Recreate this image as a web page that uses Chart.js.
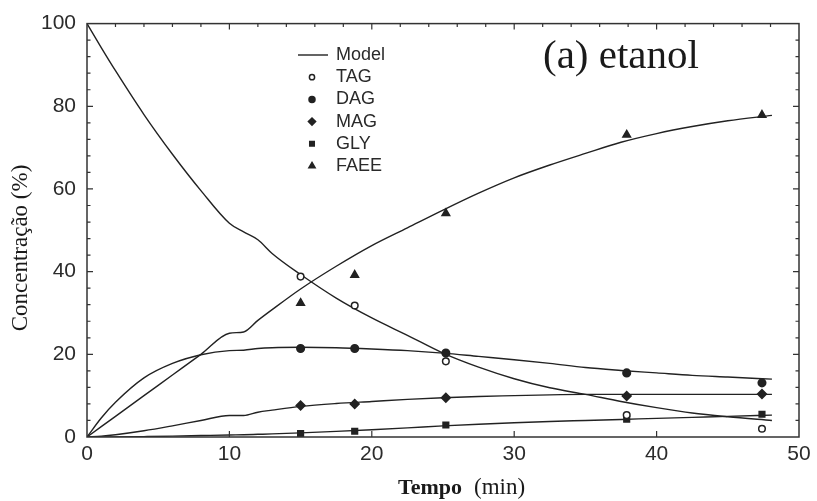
<!DOCTYPE html>
<html>
<head>
<meta charset="utf-8">
<script src="https://cdn.jsdelivr.net/npm/chart.js@4.4.1/dist/chart.umd.min.js"></script>
<style>
  html, body { margin: 0; padding: 0; background: #fff; }
  #wrap { width: 817px; height: 501px; }
</style>
</head>
<body>
<div id="wrap"><canvas id="myChart" width="817" height="501"></canvas></div>
<script>
// measured concentrations (%)
const tempo = [15, 18.8, 25.2, 37.9, 47.4];
const tag = [38.8, 31.8, 18.3, 5.3, 2.0];
const dag = [21.4, 21.4, 20.3, 15.5, 13.1];
const mag = [7.6, 8.0, 9.5, 9.9, 10.4];
const gly = [0.8, 1.4, 2.9, 4.3, 5.5];
const faee = [32.4, 39.2, 54.1, 73.1, 77.9];

// model curves
const tModel = [0, 1, 2, 4, 6, 8, 10, 11, 12, 13, 15, 17.5, 20, 22.5, 25, 27.5, 30, 32.5, 35, 37.5, 40, 42.5, 45, 48.1];
const tagModel = [100, 94.2, 88.6, 78.0, 68.4, 59.6, 51.7, 49.6, 47.7, 44.4, 39.3, 33.6, 28.8, 24.6, 20.3, 16.9, 14.1, 11.9, 10.3, 8.6, 7.1, 5.8, 4.9, 4.0];
const dagModel = [0, 4.6, 8.4, 14.3, 17.8, 19.9, 20.9, 21.0, 21.4, 21.6, 21.7, 21.6, 21.3, 20.9, 20.3, 19.5, 18.7, 17.8, 16.8, 16.1, 15.5, 14.9, 14.5, 14.0];
const magModel = [0, 0.2, 0.55, 1.5, 2.7, 4.0, 5.2, 5.2, 6.0, 6.5, 7.4, 8.1, 8.6, 9.1, 9.5, 9.8, 10.0, 10.2, 10.3, 10.3, 10.3, 10.3, 10.3, 10.3];
const glyModel = [0, 0.01, 0.02, 0.1, 0.2, 0.35, 0.5, 0.55, 0.65, 0.75, 1.0, 1.35, 1.75, 2.2, 2.7, 3.1, 3.45, 3.75, 4.0, 4.25, 4.5, 4.75, 5.0, 5.3];
const faeeModel = [0, 2.5, 5, 10, 15, 20, 25.1, 25.4, 28.2, 30.8, 35.8, 41.3, 46.3, 50.6, 54.9, 59.0, 62.7, 65.8, 68.6, 71.3, 73.4, 75.1, 76.5, 77.8];

const xTicks = [0, 10, 20, 30, 40, 50];
const yTicks = [0, 20, 40, 60, 80, 100];

const ink = '#222';
const sans = '"Liberation Sans", Arial, sans-serif';
const serif = '"Liberation Serif", "Times New Roman", serif';

function pts(xs, ys) {
  return xs.map((x, i) => ({ x: x, y: ys[i] }));
}

function modelSet(ys) {
  return {
    label: 'Model',
    data: pts(tModel, ys),
    showLine: true,
    borderColor: ink,
    borderWidth: 1.4,
    pointRadius: 0,
    cubicInterpolationMode: 'monotone',
    order: 2
  };
}

function obsSet(label, ys, style, fill, r) {
  return {
    label: label,
    data: pts(tempo, ys),
    showLine: false,
    pointStyle: style,
    pointRadius: r,
    pointBackgroundColor: fill,
    pointBorderColor: ink,
    pointBorderWidth: 1.5,
    order: 1
  };
}

const legendItems = [
  { text: 'TAG', style: 'circle', fill: '#fff', r: 2.6 },
  { text: 'DAG', style: 'circle', fill: ink, r: 3 },
  { text: 'MAG', style: 'rectRot', fill: ink, r: 3.6 },
  { text: 'GLY', style: 'rect', fill: ink, r: 3.2 },
  { text: 'FAEE', style: 'triangle', fill: ink, r: 3.6 }
];

// box, inward ticks, titles and legend
const frame = {
  id: 'frame',
  afterDatasetsDraw(chart) {
    const ctx = chart.ctx;
    const a = chart.chartArea;
    const xs = chart.scales.x, ys = chart.scales.y;
    ctx.save();
    ctx.strokeStyle = '#333';
    ctx.lineWidth = 1.5;
    ctx.strokeRect(a.left, a.top, a.right - a.left, a.bottom - a.top);
    ctx.lineWidth = 1.2;
    ctx.beginPath();
    for (let v = 2; v < 50; v += 2) {
      const px = xs.getPixelForValue(v);
      const len = v % 10 === 0 ? 6 : 3.5;
      ctx.moveTo(px, a.top);
      ctx.lineTo(px, a.top + len);
      if (v % 10 === 0) {
        ctx.moveTo(px, a.bottom);
        ctx.lineTo(px, a.bottom - len);
      }
    }
    for (let v = 4; v < 100; v += 4) {
      const py = ys.getPixelForValue(v);
      const len = v % 20 === 0 ? 6 : 3.5;
      ctx.moveTo(a.left, py);
      ctx.lineTo(a.left + len, py);
      ctx.moveTo(a.right, py);
      ctx.lineTo(a.right - len, py);
    }
    ctx.stroke();
    ctx.restore();
  },
  afterDraw(chart) {
    const ctx = chart.ctx;
    ctx.save();
    ctx.fillStyle = '#1a1a1a';

    // y title
    ctx.save();
    ctx.translate(21, 248);
    ctx.rotate(-Math.PI / 2);
    ctx.font = '23px ' + serif;
    ctx.textAlign = 'center';
    ctx.textBaseline = 'middle';
    ctx.fillText('Concentração (%)', 0, 0);
    ctx.restore();

    // x title
    ctx.textBaseline = 'alphabetic';
    ctx.textAlign = 'left';
    ctx.font = 'bold 22px ' + serif;
    ctx.fillText('Tempo', 398, 494);
    const w = ctx.measureText('Tempo').width;
    ctx.font = '23px ' + serif;
    ctx.fillText('(min)', 398 + w + 12, 494);

    // panel label
    ctx.font = '41px ' + serif;
    ctx.fillText('(a) etanol', 543, 68);

    // legend
    const lx = 312, tx = 336;
    let ly = 55;
    ctx.font = '18px ' + sans;
    ctx.textBaseline = 'middle';
    ctx.fillStyle = '#2a2a2a';
    ctx.strokeStyle = ink;
    ctx.lineWidth = 1.4;
    ctx.beginPath();
    ctx.moveTo(298, ly);
    ctx.lineTo(328, ly);
    ctx.stroke();
    ctx.fillText('Model', tx, ly);
    legendItems.forEach(function(it) {
      ly += 22.2;
      ctx.fillStyle = it.fill;
      ctx.lineWidth = 1.5;
      Chart.helpers.drawPoint(ctx, { pointStyle: it.style, radius: it.r, borderWidth: 1.5 }, lx, ly);
      ctx.fillStyle = '#2a2a2a';
      ctx.fillText(it.text, tx, ly);
    });
    ctx.restore();
  }
};

const tickFont = { family: sans, size: 21 };

new Chart(document.getElementById('myChart'), {
  type: 'scatter',
  data: {
    datasets: [
      modelSet(tagModel),
      modelSet(dagModel),
      modelSet(magModel),
      modelSet(glyModel),
      modelSet(faeeModel),
      obsSet('TAG', tag, 'circle', '#fff', 3.3),
      obsSet('DAG', dag, 'circle', ink, 3.8),
      obsSet('MAG', mag, 'rectRot', ink, 4.4),
      obsSet('GLY', gly, 'rect', ink, 4),
      obsSet('FAEE', faee, 'triangle', ink, 4.4)
    ]
  },
  options: {
    responsive: false,
    animation: false,
    layout: { padding: { left: 0, right: 18, top: 21, bottom: 0 } },
    plugins: { legend: { display: false }, tooltip: { enabled: false } },
    scales: {
      x: {
        type: 'linear',
        min: 0,
        max: 50,
        afterFit: function(s) { s.height = 64; },
        afterBuildTicks: function(s) { s.ticks = xTicks.map(v => ({ value: v })); },
        ticks: { font: tickFont, color: '#2b2b2b', padding: 5, maxRotation: 0 },
        grid: { display: false, drawTicks: false },
        border: { display: false }
      },
      y: {
        min: 0,
        max: 100,
        afterFit: function(s) { s.width = 87; },
        afterBuildTicks: function(s) { s.ticks = yTicks.map(v => ({ value: v })); },
        ticks: { font: tickFont, color: '#2b2b2b', padding: 11 },
        grid: { display: false, drawTicks: false },
        border: { display: false }
      }
    }
  },
  plugins: [frame]
});
</script>
</body>
</html>
